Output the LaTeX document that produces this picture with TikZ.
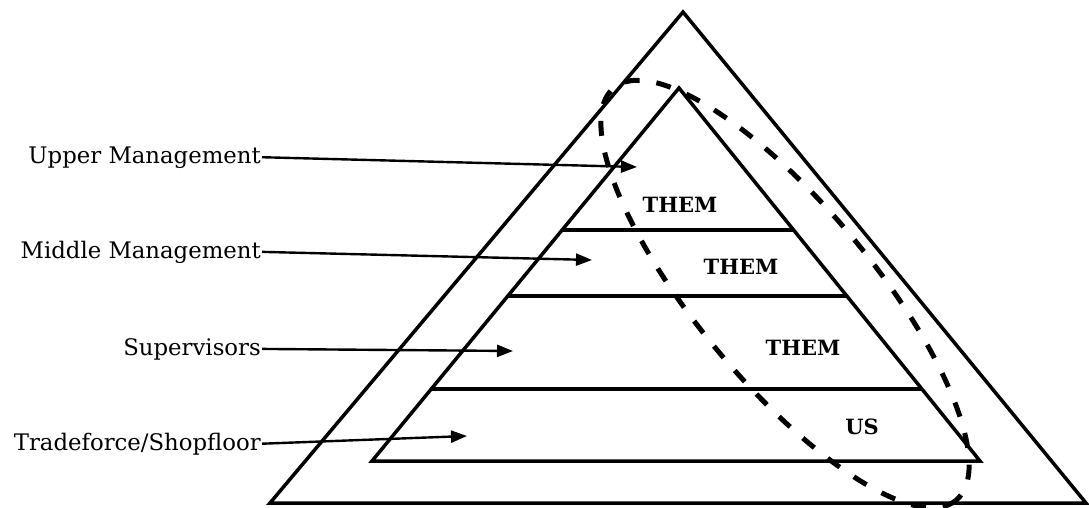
\documentclass[tikz,border=0pt]{standalone}
\usepackage{fontspec}
\setmainfont{DejaVu Serif}
\usetikzlibrary{arrows.meta,calc}
\begin{document}
\begin{tikzpicture}[x=1pt,y=-1pt,
  edge/.style={line width=3.5pt, line join=miter},
  lbl/.style={font=\fontsize{22.8}{26}\selectfont, anchor=base east, inner sep=1pt},
  grp/.style={font=\bfseries\fontsize{21}{24}\selectfont, inner sep=0pt},
  ptr/.style={line width=2.4pt, -{Triangle[length=16pt,width=12pt]}},
  loopline/.style={line width=5pt, dash pattern=on 15pt off 17pt}]
\useasboundingbox (0,0) rectangle (1089,508);
\fill[white] (0,0) rectangle (1089,508);
% outer triangle
\coordinate (oa) at (683,12);
\coordinate (ol) at (270,503);
\coordinate (or) at (1086,503);
\draw[edge] (oa) -- (ol) -- (or) -- cycle;
% inner triangle
\coordinate (ia) at (679,88);
\coordinate (il) at (372,461);
\coordinate (ir) at (980,461);
\draw[edge] (ia) -- (il) -- (ir) -- cycle;
\draw[edge] ($(ia)!0.3807!(il)$) -- ($(ia)!0.3807!(ir)$);
\draw[edge] ($(ia)!0.5576!(il)$) -- ($(ia)!0.5576!(ir)$);
\draw[edge] ($(ia)!0.8070!(il)$) -- ($(ia)!0.8070!(ir)$);
% dashed loop
\draw[loopline, shift={(785,294)}, rotate=-50.3] (0,0) ellipse [x radius=268, y radius=88];
% group labels
\node[grp] (t1) at (680,205) {THEM};
\node[grp] (t2) at (741,267) {THEM};
\node[grp] (t3) at (803,348) {THEM};
\node[grp] (us) at (862,427) {US};
% level labels
\node[lbl] (um) at (262,163) {Upper Management};
\node[lbl] (mm) at (262,258) {Middle Management};
\node[lbl] (sv) at (262,355) {Supervisors};
\node[lbl] (tf) at (262,450) {Tradeforce/Shopfloor};
\coordinate (umt) at (637,167);
\coordinate (mmt) at (592,260);
\coordinate (svt) at (513,351);
\coordinate (tft) at (467,436);
\draw[ptr] (um.east) -- (umt);
\draw[ptr] (mm.east) -- (mmt);
\draw[ptr] (sv.east) -- (svt);
\draw[ptr] (tf.east) -- (tft);
\end{tikzpicture}
\end{document}
